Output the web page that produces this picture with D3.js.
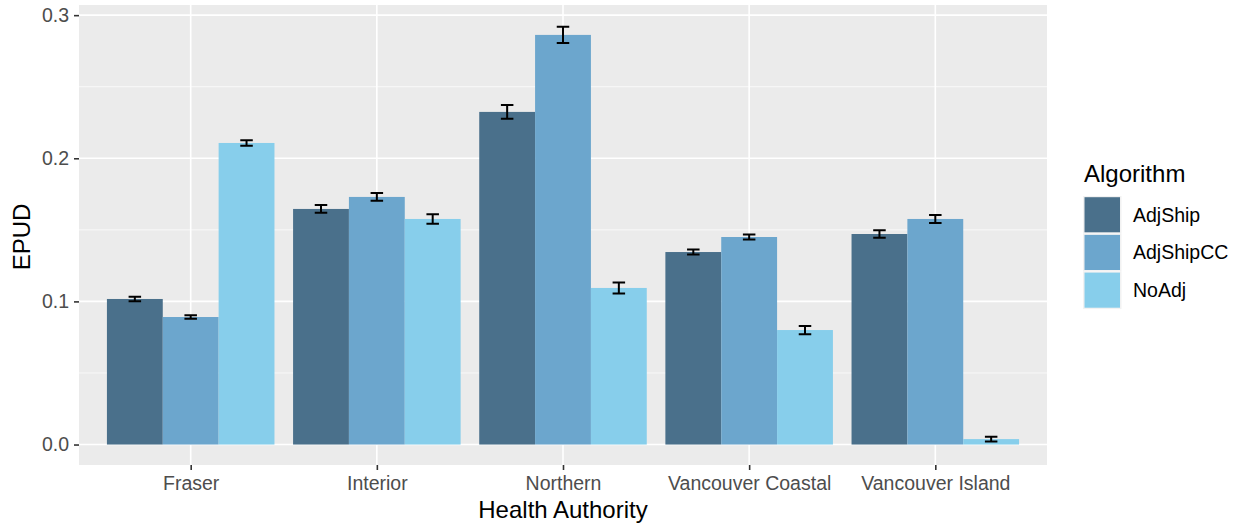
<!DOCTYPE html>
<html>
<head>
<meta charset="utf-8">
<script src="https://cdn.jsdelivr.net/npm/d3@7"></script>
<style>
  body { margin: 0; background: #fff; }
  text { font-family: "Liberation Sans", Arial, Helvetica, sans-serif; }
</style>
</head>
<body>
<div id="chart"></div>
<script>
// data
var authorities = [ "Fraser", "Interior", "Northern", "Vancouver Coastal", "Vancouver Island" ];
var algorithms = [ "AdjShip", "AdjShipCC", "NoAdj" ];
var colors = [ "#4A708B", "#6CA6CD", "#87CEEB" ];
var adjShip = [ 0.1017, 0.1646, 0.2324, 0.1345, 0.1471 ];
var adjShipCC = [ 0.0891, 0.1730, 0.2862, 0.1450, 0.1576 ];
var noAdj = [ 0.2107, 0.1576, 0.1094, 0.0800, 0.0038 ];
var adjShipErr = [ 0.0016, 0.0027, 0.0048, 0.0017, 0.0026 ];
var adjShipCCErr = [ 0.0013, 0.0027, 0.0057, 0.0017, 0.0028 ];
var noAdjErr = [ 0.0019, 0.0033, 0.0038, 0.0029, 0.0016 ];
var yTicks = [ 0, 0.1, 0.2, 0.3 ];
var yMinor = [ 0.05, 0.15, 0.25 ];

var values = [ adjShip, adjShipCC, noAdj ];
var errors = [ adjShipErr, adjShipCCErr, noAdjErr ];
var rows = [];
authorities.forEach( function( a, i ) {
  algorithms.forEach( function( g, j ) {
    rows.push( { authority: a, algorithm: g, value: values[ j ][ i ], err: errors[ j ][ i ], k: j } );
  } );
} );

var width = 1238, height = 525;
var panel = { left: 79, top: 5, right: 1047, bottom: 465 };
var tickFont = "19.5px", titleFont = "24px";

var svg = d3.select( "#chart" ).append( "svg" )
  .attr( "width", width ).attr( "height", height );

// ggplot style discrete expansion: 0.6 units each side
var unit = ( panel.right - panel.left ) / ( authorities.length - 1 + 1.2 );
var x = d3.scalePoint().domain( authorities )
  .range( [ panel.left + 0.6 * unit, panel.right - 0.6 * unit ] );
var dodge = d3.scaleBand().domain( algorithms )
  .range( [ -0.45 * unit, 0.45 * unit ] ).padding( 0 );
var y = d3.scaleLinear().domain( [ -0.0143, 0.3071 ] ).range( [ panel.bottom, panel.top ] );

svg.append( "rect" )
  .attr( "x", panel.left ).attr( "y", panel.top )
  .attr( "width", panel.right - panel.left ).attr( "height", panel.bottom - panel.top )
  .attr( "fill", "#EBEBEB" );

var grid = svg.append( "g" );
grid.selectAll( "line.minor" ).data( yMinor ).enter().append( "line" )
  .attr( "x1", panel.left ).attr( "x2", panel.right )
  .attr( "y1", y ).attr( "y2", y )
  .attr( "stroke", "#fff" ).attr( "stroke-width", 0.7 );
grid.selectAll( "line.major" ).data( yTicks ).enter().append( "line" )
  .attr( "x1", panel.left ).attr( "x2", panel.right )
  .attr( "y1", y ).attr( "y2", y )
  .attr( "stroke", "#fff" ).attr( "stroke-width", 1.6 );
grid.selectAll( "line.vmajor" ).data( authorities ).enter().append( "line" )
  .attr( "x1", x ).attr( "x2", x )
  .attr( "y1", panel.top ).attr( "y2", panel.bottom )
  .attr( "stroke", "#fff" ).attr( "stroke-width", 1.6 );

svg.append( "g" ).selectAll( "rect" ).data( rows ).enter().append( "rect" )
  .attr( "x", function( d ) { return x( d.authority ) + dodge( d.algorithm ); } )
  .attr( "width", dodge.bandwidth() )
  .attr( "y", function( d ) { return y( d.value ); } )
  .attr( "height", function( d ) { return y( 0 ) - y( d.value ); } )
  .attr( "fill", function( d ) { return colors[ d.k ]; } );

// error bars
var capHalf = dodge.bandwidth() * 0.112;
var eb = svg.append( "g" ).attr( "stroke", "#000" ).attr( "stroke-width", 2 ).attr( "fill", "none" );
rows.forEach( function( d ) {
  var cx = x( d.authority ) + dodge( d.algorithm ) + dodge.bandwidth() / 2;
  var y0 = y( d.value - d.err ), y1 = y( d.value + d.err );
  eb.append( "path" )
    .attr( "d", "M" + ( cx - capHalf ) + "," + y1 + "H" + ( cx + capHalf ) +
      "M" + cx + "," + y1 + "V" + y0 +
      "M" + ( cx - capHalf ) + "," + y0 + "H" + ( cx + capHalf ) );
} );

// axes
var yAxis = d3.axisLeft( y ).tickValues( yTicks ).tickFormat( d3.format( ".1f" ) ).tickSize( 5 ).tickPadding( 5 );
var gy = svg.append( "g" ).attr( "transform", "translate(" + panel.left + ",0)" ).call( yAxis );
gy.select( ".domain" ).remove();
gy.selectAll( "line" ).attr( "stroke", "#333" ).attr( "stroke-width", 1.6 );
gy.selectAll( "text" ).attr( "fill", "#4D4D4D" ).style( "font-size", tickFont );

var xAxis = d3.axisBottom( x ).tickSize( 5 ).tickPadding( 6 );
var gx = svg.append( "g" ).attr( "transform", "translate(0," + panel.bottom + ")" ).call( xAxis );
gx.select( ".domain" ).remove();
gx.selectAll( "line" ).attr( "stroke", "#333" ).attr( "stroke-width", 1.6 );
gx.selectAll( "text" ).attr( "fill", "#4D4D4D" ).style( "font-size", tickFont );

svg.append( "text" )
  .attr( "x", ( panel.left + panel.right ) / 2 ).attr( "y", 518 )
  .attr( "text-anchor", "middle" ).style( "font-size", titleFont ).attr( "fill", "#000" )
  .text( "Health Authority" );
svg.append( "text" )
  .attr( "transform", "translate(30," + ( ( panel.top + panel.bottom ) / 2 + 2 ) + ") rotate(-90)" )
  .attr( "text-anchor", "middle" ).style( "font-size", titleFont ).attr( "fill", "#000" )
  .text( "EPUD" );

// legend
var legend = svg.append( "g" ).attr( "transform", "translate(1083,0)" );
legend.append( "text" ).attr( "x", 1 ).attr( "y", 182 )
  .style( "font-size", titleFont ).attr( "fill", "#000" ).text( "Algorithm" );
var keyH = 37.7;
var keys = legend.selectAll( "g.key" ).data( algorithms ).enter().append( "g" )
  .attr( "transform", function( d, i ) { return "translate(0," + ( 196 + i * keyH ) + ")"; } );
keys.append( "rect" ).attr( "width", 38.5 ).attr( "height", keyH ).attr( "fill", "#F2F2F2" );
keys.append( "rect" ).attr( "x", 1.5 ).attr( "y", 1.2 ).attr( "width", 35.5 ).attr( "height", keyH - 2.6 )
  .attr( "fill", function( d, i ) { return colors[ i ]; } );
keys.append( "text" ).attr( "x", 50 ).attr( "y", keyH / 2 ).attr( "dy", "0.35em" )
  .style( "font-size", tickFont ).attr( "fill", "#000" ).text( function( d ) { return d; } );
</script>
</body>
</html>
